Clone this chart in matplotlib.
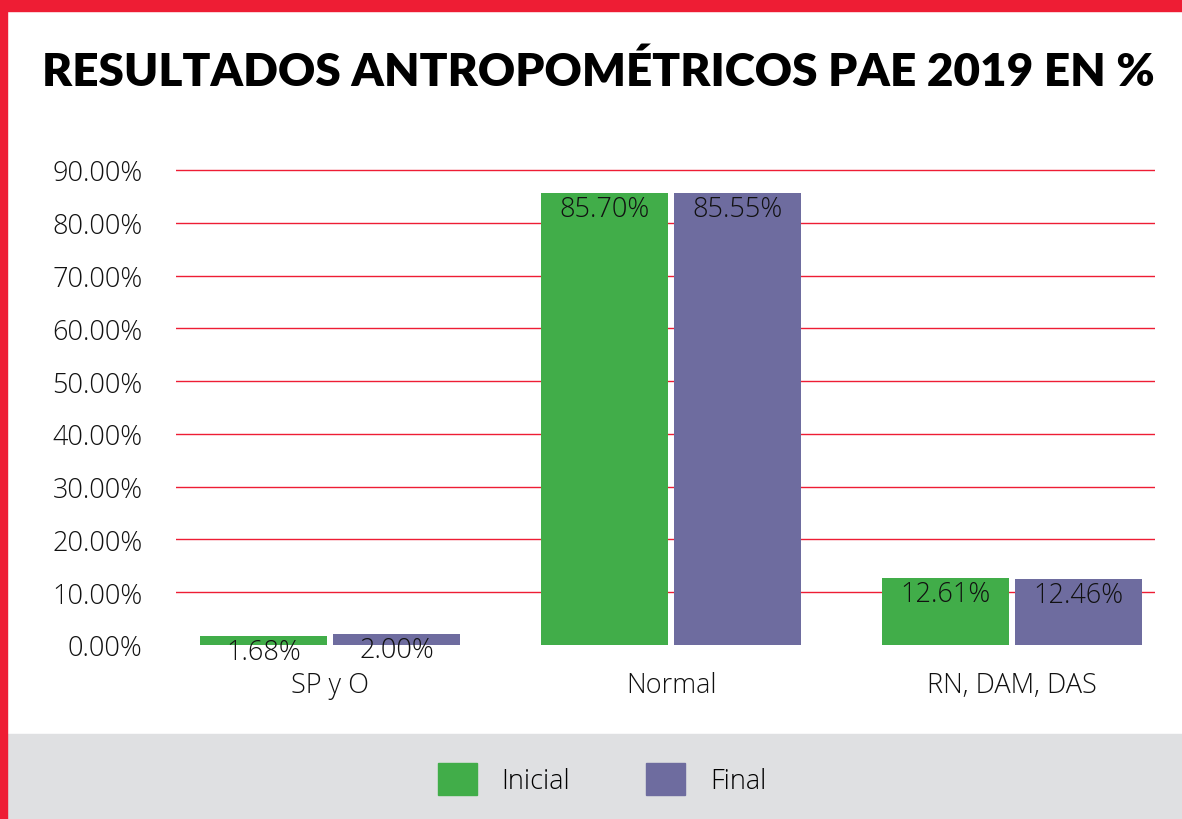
import matplotlib
matplotlib.use("Agg")
import matplotlib.pyplot as plt
from matplotlib.patches import Rectangle, Patch

categories = ["SP y O", "Normal", "RN, DAM, DAS"]
inicial = [1.68, 85.70, 12.61]
final = [2.00, 85.55, 12.46]
series_names = ["Inicial", "Final"]
yticks = [0, 10, 20, 30, 40, 50, 60, 70, 80, 90]

green = "#41ad49"
purple = "#6e6c9f"
red = "#ee1d34"
grey = "#dfe0e2"
title_font = "Lato"
font = "Open Sans"
fs = 19.5

fig = plt.figure(figsize=(11.82, 8.20), dpi=100)

# frame: red border top and left, grey legend band at the bottom
fig.patches.append(Rectangle((0, 0), 1, 85 / 820, transform=fig.transFigure,
                             color=grey, zorder=0))
fig.patches.append(Rectangle((0, 1 - 12 / 820), 1, 12 / 820,
                             transform=fig.transFigure, color=red, zorder=1))
fig.patches.append(Rectangle((0, 0), 7 / 1182, 1, transform=fig.transFigure,
                             color=red, zorder=1))

fig.text(598 / 1182, 1 - 72 / 820, "RESULTADOS ANTROPOMÉTRICOS PAE 2019 EN %",
         ha="center", va="center", fontsize=33, fontweight="heavy",
         family=title_font, color="black")

ax = fig.add_axes([176 / 1182, 174 / 820, 979 / 1182, 480.3 / 820])
x = list(range(len(categories)))
w = 0.372
off = w / 2 + 0.009
b1 = ax.bar([i - off for i in x], inicial, w, color=green, zorder=2)
b2 = ax.bar([i + off for i in x], final, w, color=purple, zorder=2)

for bars, vals in ((b1, inicial), (b2, final)):
    for bar, v in zip(bars, vals):
        ax.text(bar.get_x() + bar.get_width() / 2, max(v - 3.0, -1.5),
                f"{v:.2f}%", ha="center", va="center", fontsize=fs,
                family=font, fontweight="light", color="#111111", zorder=3,
                clip_on=False)

for t in yticks[1:]:
    ax.axhline(t, color=red, lw=1, zorder=1)

ax.set_xlim(-0.452, 2.419)
ax.set_ylim(0, 91)
ax.set_yticks(yticks)
ax.set_yticklabels([f"{t:.2f}%" for t in yticks])
ax.set_xticks(x)
ax.set_xticklabels(categories)
ax.tick_params(axis="y", length=0, pad=24, labelsize=fs)
ax.tick_params(axis="x", length=0, pad=19, labelsize=fs)
for lab in ax.get_xticklabels() + ax.get_yticklabels():
    lab.set_family(font)
    lab.set_fontweight("light")
    lab.set_color("#111111")
for s in ax.spines.values():
    s.set_visible(False)

handles = [Patch(color=green), Patch(color=purple)]
fig.legend(handles, series_names, loc="center", ncol=2,
           bbox_to_anchor=(602 / 1182, 40 / 820), frameon=False,
           prop={"family": font, "size": fs, "weight": "light"},
           handlelength=1.45, handleheight=1.45, handletextpad=0.9,
           columnspacing=2.8)

fig.savefig("out.png", dpi=100)
